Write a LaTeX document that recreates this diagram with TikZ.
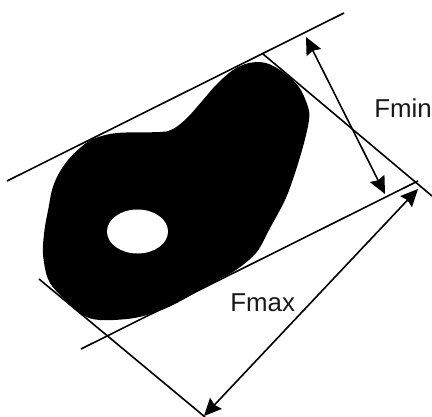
\documentclass[tikz,border=0pt]{standalone}
\usepackage{fontspec}
\setmainfont{Liberation Sans}
\usetikzlibrary{arrows.meta}
\tikzset{
 guide/.style={line width=1.2pt,black},
 dim/.style={line width=1.2pt,black,{Stealth[length=13pt,width=12pt,inset=1.5pt]}-{Stealth[length=13pt,width=12pt,inset=1.5pt]}},
 lab/.style={inner sep=0pt,font=\fontsize{19.4pt}{22pt}\selectfont,text=black!90}
}
\begin{document}
\begin{tikzpicture}[x=0.75pt,y=-0.75pt]
\useasboundingbox (0,0) rectangle (432,417);
% blob
\fill[black] plot[smooth cycle,tension=0.55] coordinates {
 (48.5,208) (52,190) (58,175) (68,160) (80,148) (93,139) (117,133) (160,132) (173,129)
 (187,118) (203,100) (216,85) (233,70) (249,63) (266,63) (283,72) (299,87)
 (308,107) (309,120) (304,143) (296,170) (288,193) (281,208) (269,230) (259,249)
 (249,260) (233,272) (216,281) (173,305) (147,315) (127,319) (100,320) (83,315)
 (60,295) (48,279) (43,254) (44.5,230)};
\fill[white] (137.5,231.5) ellipse [x radius=30.5, y radius=22];
\coordinate (t1) at (7,181);
\coordinate (t2) at (344,13);
\coordinate (b1) at (81,349);
\coordinate (b2) at (418,181);
\coordinate (r1) at (263,54);
\coordinate (r2) at (432,196);
\coordinate (l1) at (39,279);
\coordinate (l2) at (205,417);
\coordinate (a1) at (306,37);
\coordinate (a2) at (385,194);
\coordinate (c1) at (418,189);
\coordinate (c2) at (204,416);
\draw[guide] (t1) -- (t2);
\draw[guide] (b1) -- (b2);
\draw[guide] (r1) -- (r2);
\draw[guide] (l1) -- (l2);
\draw[dim] (a1) -- (a2);
\draw[dim] (c1) -- (c2);
\node[lab,anchor=base west] (fmin) at (374,118) {Fmin};
\node[lab,anchor=base west] (fmax) at (230,311) {Fmax};
\end{tikzpicture}
\end{document}
